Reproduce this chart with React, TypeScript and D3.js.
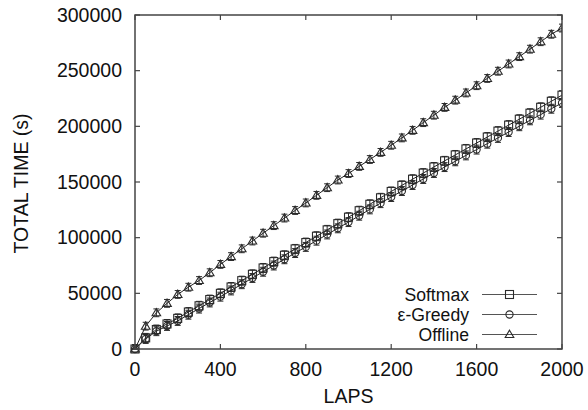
import React from "react";
import * as d3 from "d3";

const laps = [0,50,100,150,200,250,300,350,400,450,500,550,600,650,700,750,800,850,900,950,1000,1050,1100,1150,1200,1250,1300,1350,1400,1450,1500,1550,1600,1650,1700,1750,1800,1850,1900,1950,2000];
const offlineLaps = [...laps, 2050];

const softmax = [0,10000,17500,22500,27500,33200,38800,44400,50000,55700,61400,67100,72800,78500,84200,89900,95600,101300,107000,112600,118400,124200,130000,135800,141500,147000,152500,158000,163500,169000,174300,179700,185000,190400,195700,201100,206400,211800,217100,222500,228000];
const greedy = [0,9000,16000,20700,25200,30800,36300,41800,47000,52600,58200,63800,69400,75000,80600,86200,91700,97300,102900,108400,114000,119700,125400,131000,136500,141900,147300,152700,158100,163400,168600,173900,179100,184400,189600,194900,200100,205400,210500,215800,221000];
const offline = [0,20500,32500,41000,49000,55500,61500,68500,76000,83000,90000,97000,104000,110800,117600,124400,131200,138000,144900,151800,157600,164000,170200,176600,183000,189600,196400,203300,210000,217000,223500,230000,236500,243000,249500,256000,262600,269300,276000,282700,288300,294300];

const errSoftmax = 4000;
const errGreedy = 4000;
const errOffline = 3500;

const xTicks = [0,400,800,1200,1600,2000];
const yTicks = [0,50000,100000,150000,200000,250000,300000];

const seriesNames = ["Softmax", "\u03b5-Greedy", "Offline"];

const W = 588, H = 410;
const M = { left: 135, right: 562, top: 15, bottom: 349 };
const FONT = "'Liberation Sans', Arial, Helvetica, sans-serif";
const INK = "#2a2a2a";
const FS = 19.5;
const LFS = 17.6;

function Marker({ kind, x, y }: { kind: string; x: number; y: number }) {
  if (kind === "square") return <rect x={x - 4} y={y - 4} width={8} height={8} fill="none" stroke={INK} strokeWidth={1.1} />;
  if (kind === "circle") return <circle cx={x} cy={y} r={3.6} fill="none" stroke={INK} strokeWidth={1.1} />;
  return <path d={`M${x},${y - 4.3}L${x + 4.3},${y + 3}L${x - 4.3},${y + 3}Z`} fill="none" stroke={INK} strokeWidth={1.1} />;
}

export default function App() {
  const x = d3.scaleLinear().domain([0, 2000]).range([M.left, M.right]);
  const y = d3.scaleLinear().domain([0, 300000]).range([M.bottom, M.top]);
  const line = d3.line<[number, number]>().x(d => x(d[0])).y(d => y(d[1]));

  const series = [
    { name: seriesNames[0], kind: "square", xs: laps, ys: softmax, err: errSoftmax },
    { name: seriesNames[1], kind: "circle", xs: laps, ys: greedy, err: errGreedy },
    { name: seriesNames[2], kind: "triangle", xs: offlineLaps, ys: offline, err: errOffline },
  ];

  const legendY = [294.5, 314.5, 334.5];

  return (
    <svg width={W} height={H} style={{ position: "absolute", left: 0, top: 0, background: "#fff" }} fontFamily={FONT}>
      <defs>
        <clipPath id="plot">
          <rect x={M.left - 8} y={M.top - 8} width={M.right - M.left + 8} height={M.bottom - M.top + 16} />
        </clipPath>
      </defs>
      <rect width={W} height={H} fill="#fff" />
      <g clipPath="url(#plot)">
        {series.map((s) => {
          const pts = s.xs.map((l, i) => [l, s.ys[i]] as [number, number]);
          return (
            <g key={s.name}>
              <path d={line(pts) || ""} fill="none" stroke="#222" strokeWidth={1} />
              {pts.map((p, i) => {
                const cx = x(p[0]), cy = y(p[1]);
                const y1 = y(p[1] + s.err), y2 = y(Math.max(0, p[1] - s.err));
                return (
                  <g key={i}>
                    <line x1={cx} x2={cx} y1={y1} y2={y2} stroke={INK} strokeWidth={1} />
                    <line x1={cx - 3} x2={cx + 3} y1={y1} y2={y1} stroke={INK} strokeWidth={1} />
                    <line x1={cx - 3} x2={cx + 3} y1={y2} y2={y2} stroke={INK} strokeWidth={1} />
                    <Marker kind={s.kind} x={cx} y={cy} />
                  </g>
                );
              })}
            </g>
          );
        })}
      </g>
      <rect x={M.left} y={M.top} width={M.right - M.left} height={M.bottom - M.top} fill="none" stroke="#444" strokeWidth={1.5} />
      {xTicks.map((t) => (
        <g key={"x" + t}>
          <line x1={x(t)} x2={x(t)} y1={M.bottom} y2={M.bottom - 5} stroke="#444" strokeWidth={1.2} />
          <line x1={x(t)} x2={x(t)} y1={M.top} y2={M.top + 5} stroke="#444" strokeWidth={1.2} />
          <text x={x(t)} y={376} textAnchor="middle" fontSize={FS} fill="#111">{t}</text>
        </g>
      ))}
      {yTicks.map((t) => (
        <g key={"y" + t}>
          <line x1={M.left} x2={M.left + 5} y1={y(t)} y2={y(t)} stroke="#444" strokeWidth={1.2} />
          <line x1={M.right} x2={M.right - 5} y1={y(t)} y2={y(t)} stroke="#444" strokeWidth={1.2} />
          <text x={122} y={y(t)} dy="0.35em" textAnchor="end" fontSize={FS} fill="#111">{t}</text>
        </g>
      ))}
      <text x={(M.left + M.right) / 2} y={403} textAnchor="middle" fontSize={FS} fill="#111">LAPS</text>
      <text transform={`translate(28,183.5) rotate(-90)`} textAnchor="middle" fontSize={FS} fill="#111">TOTAL TIME (s)</text>
      {series.map((s, i) => (
        <g key={"lg" + i}>
          <text x={469} y={legendY[i]} dy="0.35em" textAnchor="end" fontSize={LFS} fill="#111">{s.name}</text>
          <line x1={482} x2={537} y1={legendY[i]} y2={legendY[i]} stroke="#555" strokeWidth={1} />
          <Marker kind={s.kind} x={509.5} y={legendY[i]} />
        </g>
      ))}
    </svg>
  );
}
